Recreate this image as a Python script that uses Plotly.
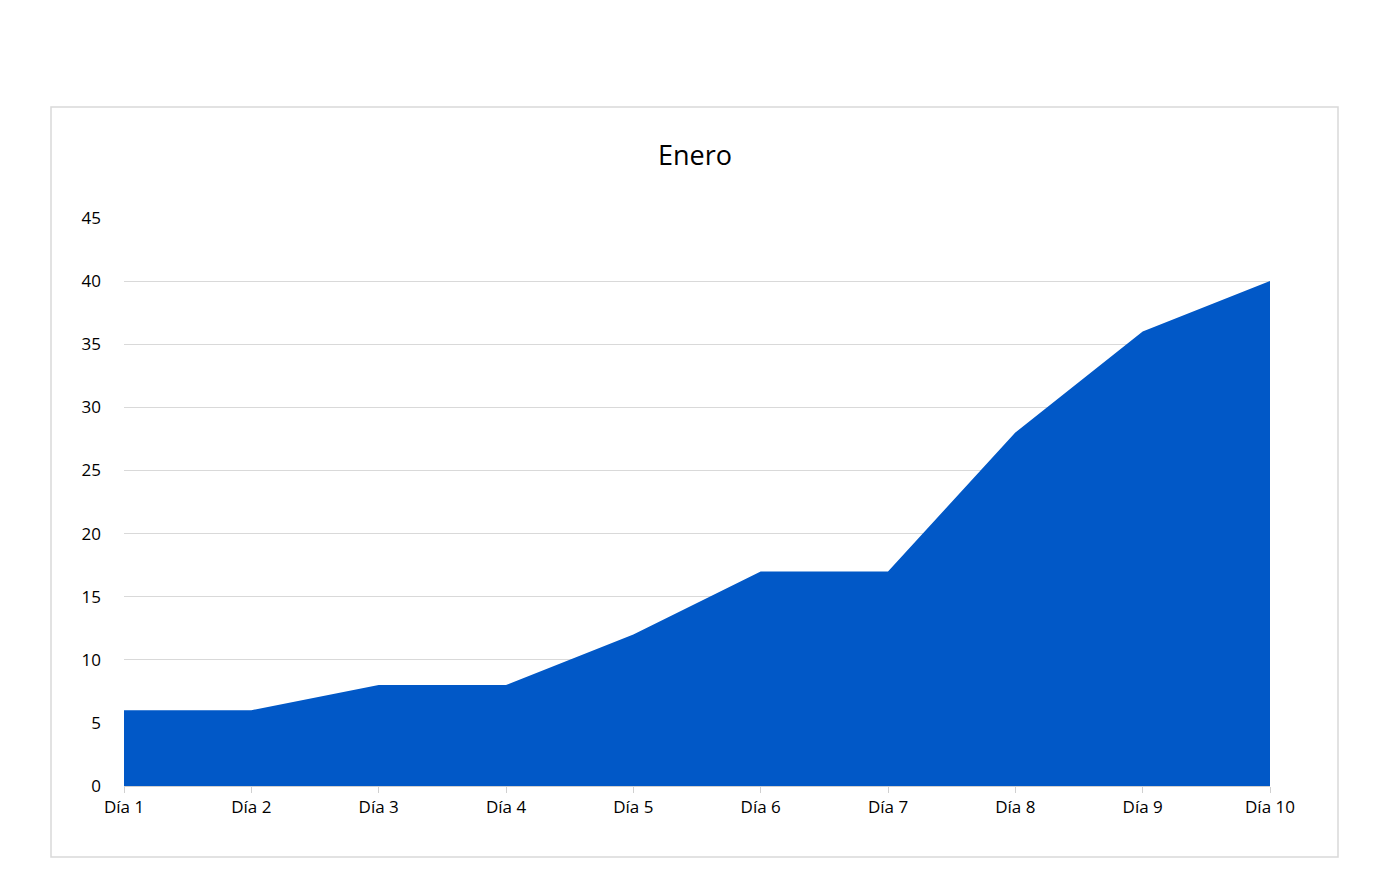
import plotly.graph_objects as go

categories = ["Día 1","Día 2","Día 3","Día 4","Día 5","Día 6","Día 7","Día 8","Día 9","Día 10"]
values = [6, 6, 8, 8, 12, 17, 17, 28, 36, 40]
xs = list(range(len(categories)))

fig = go.Figure(go.Scatter(x=xs, y=values, fill="tozeroy", mode="lines",
                           line=dict(color="#0158C7", width=0), fillcolor="#0158C7",
                           hoverinfo="skip"))
font = "Open Sans, Liberation Sans, sans-serif"
fig.update_layout(
    width=1374, height=889, paper_bgcolor="white", plot_bgcolor="white",
    margin=dict(l=116, r=112, t=210, b=111),
    showlegend=False,
    title=dict(text="Enero", x=0.5, xanchor="center", y=1-148/889, yanchor="middle",
               font=dict(family=font, size=27, color="#000")),
    xaxis=dict(range=[0, 9], tickvals=xs, ticktext=categories, showgrid=False,
               showline=True, linecolor="#D0D0D0", ticks="outside", ticklen=6,
               tickcolor="#D0D0D0", zeroline=False,
               tickfont=dict(family=font, size=17, color="#000")),
    yaxis=dict(range=[0, 45], dtick=5, showgrid=True, gridcolor="#D9D9D9",
               zeroline=False, showline=False, ticks="", ticklabelstandoff=22,
               tickfont=dict(family=font, size=17, color="#000")),
    shapes=[dict(type="rect", xref="paper", yref="paper",
                 x0=(43-116)/1146, x1=(1330-116)/1146,
                 y0=(778-849)/568, y1=(778-99)/568,
                 line=dict(color="#D9D9D9", width=1.5), layer="below")],
)
fig.write_html("out.html")
